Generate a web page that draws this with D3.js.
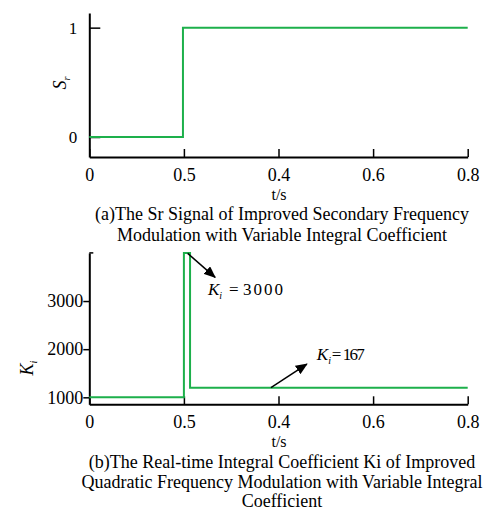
<!DOCTYPE html>
<html><head><meta charset="utf-8">
<script src="https://cdn.jsdelivr.net/npm/d3@7"></script>
<style>
body{margin:0;background:#fff;}
svg, svg text{font-family:"Liberation Serif","Times New Roman",serif !important;}
</style></head>
<body><svg id="c" width="490" height="511"></svg>
<script>
// ---- data ----
const xTickValues = [0, 0.2, 0.4, 0.6, 0.8];
const xTickLabels = ["0", "0.5", "0.4", "0.6", "0.8"];
// (a) Sr signal
const srTime  = [0, 0.198, 0.8];
const srValue = [0, 1, 1];
const srTicks = [0, 1];
// (b) Ki
const kiTime  = [0, 0.2, 0.213, 0.8];
const kiValue = [1000, 4000, 1200, 1200];
const kiTicks = [1000, 2000, 3000];
const captionA = ["(a)The Sr Signal of Improved Secondary Frequency",
                  "Modulation with Variable Integral Coefficient"];
const captionB = ["(b)The Real-time Integral Coefficient Ki of Improved",
                  "Quadratic Frequency Modulation with Variable Integral",
                  "Coefficient"];
const annotations = [
  {from:[0.208, 3990], to:[0.266, 3492], text:[0.251, 3130], value:"3000", eqDx:21, valDx:35, valLen:40},
  {from:[0.384, 1200], to:[0.460, 1692], text:[0.481, 1775], value:"167",  eqDx:15, valDx:26, valLen:22}
];

const svg = d3.select("#c");
const green = "#1db04b";
const FS = 18;

svg.append("defs").append("marker")
  .attr("id","ah").attr("viewBox","0 0 12 10").attr("refX",11).attr("refY",5)
  .attr("markerWidth",12).attr("markerHeight",10).attr("markerUnits","userSpaceOnUse")
  .attr("orient","auto")
  .append("path").attr("d","M0,0 L12,5 L0,10 Z").attr("fill","#000");

function styleAxis(a, fs){
  a.attr("font-family",null).attr("font-size",null);
  a.select(".domain").attr("stroke","#000").attr("stroke-width",2);
  a.selectAll(".tick line").attr("stroke","#000").attr("stroke-width",1.5);
  a.selectAll(".tick text").attr("fill","#000").attr("font-size",fs);
}

function xAxisDraw(g, x, yPix, tickLen, off) {
  const ax = d3.axisBottom(x).tickValues(xTickValues)
    .tickFormat((d,i)=>xTickLabels[i]).tickSizeInner(-tickLen).tickSizeOuter(0).tickPadding(0);
  const a = g.append("g").attr("transform",`translate(0,${yPix})`).call(ax);
  styleAxis(a, 18);
  a.selectAll(".tick text").attr("dy",null).attr("y",off);
}

// ---------- (a) ----------
{
  const x = d3.scaleLinear().domain([0,0.8]).range([89.3,467.7]);
  const y = d3.scaleLinear().domain([-0.183,1.134]).range([157,13]);
  const g = svg.append("g");
  const ay = d3.axisLeft(y).tickValues(srTicks).tickFormat(d3.format("d"))
    .tickSizeInner(-11).tickSizeOuter(0).tickPadding(12);
  const a = g.append("g").attr("transform",`translate(${x(0)},0)`).call(ay);
  styleAxis(a, 17);
  xAxisDraw(g, x, y.range()[0], 8, 24);

  const pts = srTime.map((t,i)=>[t, srValue[i]]);
  g.append("path").datum(pts)
    .attr("d", d3.line().x(d=>x(d[0])).y(d=>y(d[1])).curve(d3.curveStepAfter))
    .attr("fill","none").attr("stroke",green).attr("stroke-width",2);

  const yl = g.append("text").attr("transform","translate(66,83) rotate(-90)")
    .attr("text-anchor","middle").attr("font-size",FS);
  yl.append("tspan").attr("font-style","italic").text("S");
  yl.append("tspan").attr("font-style","italic").attr("font-size",10).attr("dy",4).text("r");

  g.append("text").attr("x",279).attr("y",200).attr("text-anchor","middle").attr("font-size",16).text("t/s");
  captionA.forEach((s,i)=>g.append("text").attr("x",282).attr("y",220+i*20.5)
    .attr("text-anchor","middle").attr("font-size",FS).text(s));
}

// ---------- (b) ----------
{
  const x = d3.scaleLinear().domain([0,0.8]).range([89.3,467.7]);
  const y = d3.scaleLinear().domain([855,4000]).range([404.3,252.9]);
  const g = svg.append("g");
  const ay = d3.axisLeft(y).tickValues(kiTicks).tickFormat(d3.format("d"))
    .tickSizeInner(6).tickSizeOuter(0).tickPadding(0);
  const a = g.append("g").attr("transform",`translate(${x(0)},0)`).call(ay);
  styleAxis(a, FS);
  g.append("line").attr("x1",x(0)).attr("x2",x(0)+4).attr("y1",y(4000)).attr("y2",y(4000))
    .attr("stroke","#000").attr("stroke-width",1.5);
  xAxisDraw(g, x, y.range()[0], 8, 24);

  const pts = kiTime.map((t,i)=>[t, kiValue[i]]);
  g.append("path").datum(pts)
    .attr("d", d3.line().x(d=>x(d[0])).y(d=>y(d[1])).curve(d3.curveStepAfter))
    .attr("fill","none").attr("stroke",green).attr("stroke-width",2);

  annotations.forEach(an=>{
    g.append("line").attr("x1",x(an.from[0])).attr("y1",y(an.from[1]))
      .attr("x2",x(an.to[0])).attr("y2",y(an.to[1]))
      .attr("stroke","#000").attr("stroke-width",1.5).attr("marker-end","url(#ah)");
    const tx = x(an.text[0]), ty = y(an.text[1]);
    const t = g.append("text").attr("x",tx).attr("y",ty).attr("font-size",17);
    t.append("tspan").attr("font-style","italic").text("K");
    t.append("tspan").attr("font-style","italic").attr("font-size",10).attr("dy",4).text("i");
    g.append("text").attr("x",tx+an.eqDx).attr("y",ty).attr("font-size",17).text("=");
    g.append("text").attr("x",tx+an.valDx).attr("y",ty).attr("font-size",17)
      .attr("textLength",an.valLen).attr("lengthAdjust","spacing").text(an.value);
  });

  const yl = g.append("text").attr("transform","translate(33,368) rotate(-90)")
    .attr("text-anchor","middle").attr("font-size",FS);
  yl.append("tspan").attr("font-style","italic").text("K");
  yl.append("tspan").attr("font-style","italic").attr("font-size",10).attr("dy",4).text("i");

  g.append("text").attr("x",279).attr("y",447).attr("text-anchor","middle").attr("font-size",16).text("t/s");
  captionB.forEach((s,i)=>g.append("text").attr("x",282).attr("y",468+i*19.5)
    .attr("text-anchor","middle").attr("font-size",FS).text(s));
}
</script></body></html>
